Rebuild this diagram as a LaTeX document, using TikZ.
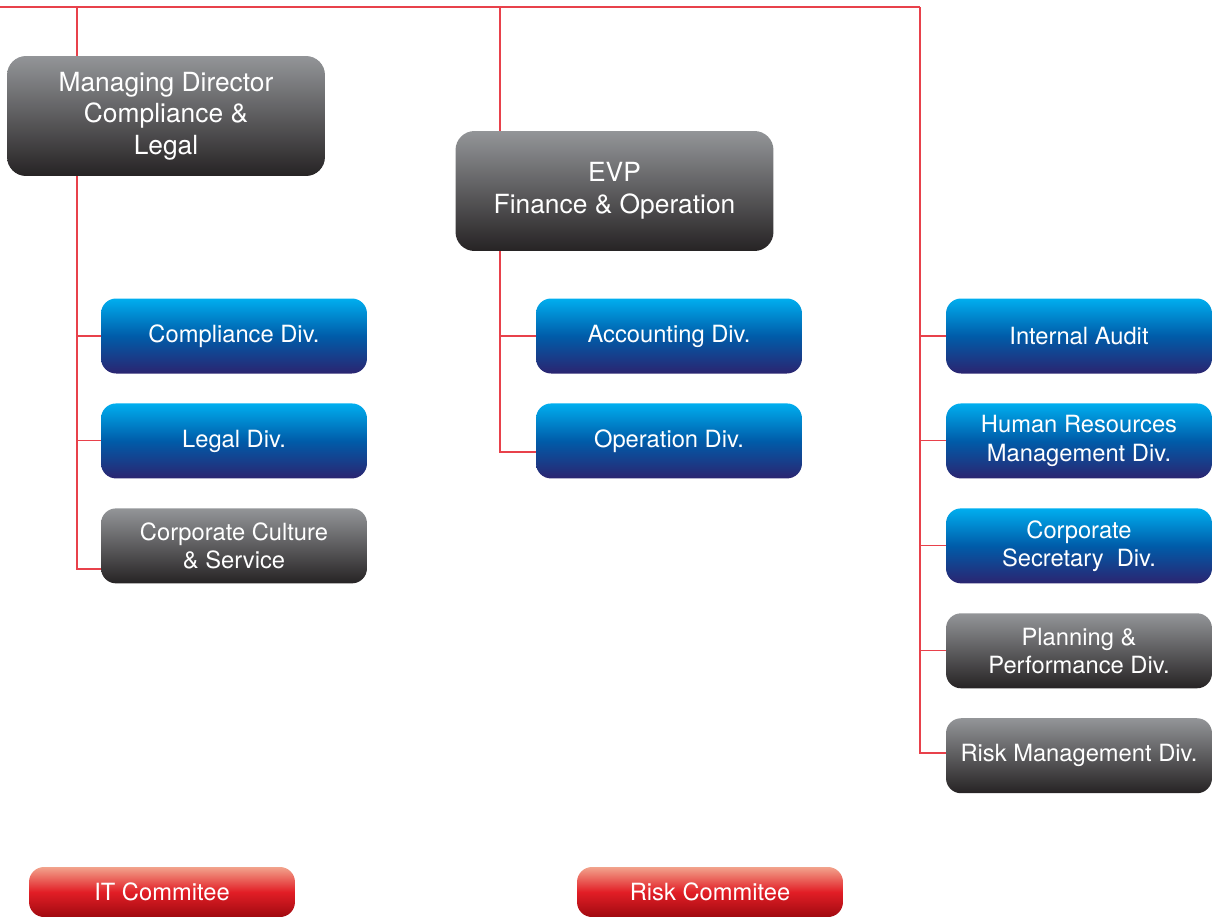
\documentclass[tikz,border=0pt]{standalone}
\usepackage{fontspec}
\setmainfont{TeX Gyre Heros}
\usetikzlibrary{positioning}
\definecolor{grayTop}{HTML}{939598}
\definecolor{grayBot}{HTML}{262324}
\definecolor{blueTop}{HTML}{00AEEF}
\definecolor{blueMid}{HTML}{005CA9}
\definecolor{blueBot}{HTML}{2B2470}
\definecolor{redTop}{HTML}{F2A38C}
\definecolor{redMid}{HTML}{E21E26}
\definecolor{redBot}{HTML}{A00A10}
\definecolor{linkRed}{HTML}{E8414B}
\tikzset{
  box/.style={text=white, align=center, inner sep=2pt},
  head/.style={box, rounded corners=0.38cm, minimum width=6.36cm, minimum height=2.4cm,
    top color=grayTop, bottom color=grayBot, font=\fontsize{15}{18}\selectfont},
  div/.style={box, rounded corners=0.3cm, minimum width=5.32cm, minimum height=1.5cm,
    font=\fontsize{13.5}{16}\selectfont},
  divblue/.style={div, top color=blueTop, bottom color=blueBot, middle color=blueMid},
  divgray/.style={div, top color=grayTop, bottom color=grayBot},
  comm/.style={box, rounded corners=0.3cm, minimum width=5.32cm, minimum height=1.0cm,
    top color=redTop, bottom color=redBot, middle color=redMid,
    font=\fontsize{13.5}{16}\selectfont},
  link/.style={draw=linkRed, line width=0.6pt},
}

\begin{document}
\begin{tikzpicture}[x=0.02cm, y=-0.02cm, node distance=0.585cm]
    \useasboundingbox (0,0) rectangle (1215,917);
    % heads
    \node[head] (md) at (166,116) {Managing Director\\Compliance \&\\Legal};
    \node[head] (evp) at (614.5,191) {EVP\\Finance \& Operation};
    % compliance & legal column
    \node[divblue] (cdiv) at (234,336) {Compliance Div.};
    \node[divblue, below=of cdiv] (ldiv) {Legal Div.};
    \node[divgray, below=of ldiv] (ccs) {Corporate Culture\\\& Service};
    % finance column
    \node[divblue] (acc) at (669,336) {Accounting Div.};
    \node[divblue, below=of acc] (opd) {Operation Div.};
    % right column
    \node[divblue] (ia) at (1079,336) {Internal Audit};
    \node[divblue, below=of ia] (hr) {Human Resources\\Management Div.};
    \node[divblue, below=of hr] (cs) {Corporate\\Secretary~~Div.};
    \node[divgray, below=of cs] (pp) {Planning \&\\Performance Div.};
    \node[divgray, below=of pp] (rm) {Risk Management Div.};
    % committees
    \node[comm] (it) at (162,892) {IT Commitee};
    \node[comm] (rc) at (710,892) {Risk Commitee};

    % lines
    \coordinate (top0) at (0,7);
    \coordinate (topL) at (77,7);
    \coordinate (topM) at (500,7);
    \coordinate (topR) at (920,7);
    \coordinate (busL) at (77,569);
    \coordinate (busM) at (500,452);
    \coordinate (busR) at (920,753);
    \draw[link] (top0) -- (topR);
    \draw[link] (topL) -- (md.north -| topL);
    \draw[link] (md.south -| topL) -- (busL) -- (busL -| ccs.west);
    \draw[link] (cdiv.west) -- (cdiv.west -| busL);
    \draw[link] (ldiv.west) -- (ldiv.west -| busL);
    \draw[link] (topM) -- (evp.north -| topM);
    \draw[link] (evp.south -| topM) -- (busM) -- (busM -| opd.west);
    \draw[link] (acc.west) -- (acc.west -| busM);
    \draw[link] (topR) -- (busR) -- (busR -| rm.west);
    \foreach \n in {ia,hr,cs,pp}
      \draw[link] (\n.west) -- (\n.west -| busR);
\end{tikzpicture}
\end{document}
